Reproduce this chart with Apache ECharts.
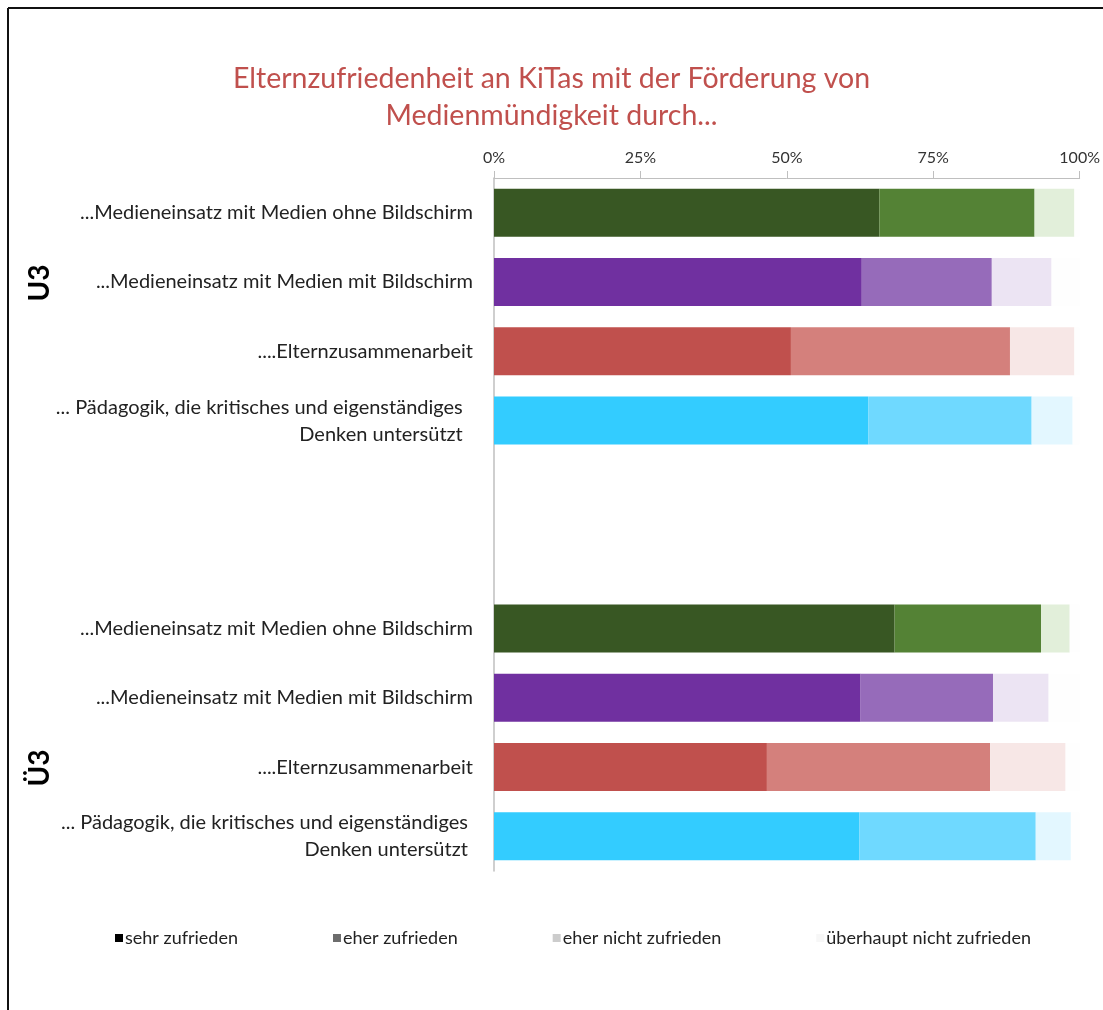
<!DOCTYPE html>
<html>
<head>
<meta charset="utf-8">
<script src="https://cdn.jsdelivr.net/npm/echarts@6/dist/echarts.min.js"></script>
<style>
  html, body { margin: 0; padding: 0; background: #fff; }
  #main { width: 1103px; height: 1010px; }
</style>
</head>
<body>
<div id="main"></div>
<script>
// Kategorien (von oben nach unten), zwei leere Zeilen trennen U3 und Ü3
var categories = ['U3-ohne', 'U3-mit', 'U3-eltern', 'U3-paed', 'gap1', 'gap2', 'Ü3-ohne', 'Ü3-mit', 'Ü3-eltern', 'Ü3-paed'];
var categoryLabels = [
  '...Medieneinsatz mit Medien ohne Bildschirm',
  '...Medieneinsatz mit Medien mit Bildschirm',
  '....Elternzusammenarbeit',
  '... Pädagogik, die kritisches und eigenständiges  \nDenken untersützt  ',
  '', '',
  '...Medieneinsatz mit Medien ohne Bildschirm',
  '...Medieneinsatz mit Medien mit Bildschirm',
  '....Elternzusammenarbeit',
  '... Pädagogik, die kritisches und eigenständiges \nDenken untersützt '
];
var seriesNames = ['sehr zufrieden', 'eher zufrieden', 'eher nicht zufrieden', 'überhaupt nicht zufrieden'];

// Werte in Prozent
var sehr      = [65.8, 62.8, 50.7, 63.9, null, null, 68.4, 62.6, 46.6, 62.4];
var eher      = [26.5, 22.2, 37.4, 27.9, null, null, 25.0, 22.6, 38.1, 30.1];
var eherNicht = [6.8, 10.2, 11.0, 7.0, null, null, 4.9, 9.5, 12.9, 6.0];
var garNicht  = [0.9, 4.8, 0.9, 1.2, null, null, 1.7, 5.3, 2.4, 1.5];

var xTicks = ['0%', '25%', '50%', '75%', '100%'];

// Farben je Zeile: [sehr, eher, eher nicht, überhaupt nicht]
var green  = ['#385723', '#548235', '#e2efda', '#fefefe'];
var purple = ['#7030a0', '#966bba', '#ece4f3', '#fefefe'];
var red    = ['#c0504d', '#d4807c', '#f7e7e6', '#fefefe'];
var cyan   = ['#33ccff', '#6fd9ff', '#e3f7ff', '#fefefe'];
var rowColors = [green, purple, red, cyan, null, null, green, purple, red, cyan];
var legendColors = ['#000000', '#6d6d6d', '#cccccc', '#f7f7f7'];

var allValues = [sehr, eher, eherNicht, garNicht];

var series = [];
for (var s = 0; s < allValues.length; s++) {
  var data = [];
  for (var i = 0; i < categories.length; i++) {
    var v = allValues[s][i];
    if (v === null) { data.push('-'); continue; }
    data.push({ value: v, itemStyle: { color: rowColors[i][s] } });
  }
  series.push({
    name: seriesNames[s],
    type: 'bar',
    stack: 'total',
    barWidth: 48,
    itemStyle: { color: legendColors[s] },
    emphasis: { disabled: true },
    data: data
  });
}

var chart = echarts.init(document.getElementById('main'));
var option = {
  animation: false,
  textStyle: { fontFamily: 'Lato, "Open Sans", sans-serif' },
  title: {
    text: 'Elternzufriedenheit an KiTas mit der Förderung von\nMedienmündigkeit durch...',
    left: 'center',
    top: 55,
    textStyle: { color: '#c0504d', fontSize: 28.5, fontWeight: 'normal', lineHeight: 37, fontFamily: 'Lato, sans-serif' }
  },
  legend: {
    bottom: 58,
    left: 110,
    itemWidth: 8,
    itemHeight: 8,
    itemGap: 95,
    icon: 'rect',
    textStyle: { fontSize: 18, color: '#222', padding: [0, 0, 0, -3] },
    data: seriesNames
  },
  grid: { left: 494, right: 21, top: 178, bottom: 139, containLabel: false },
  xAxis: {
    type: 'value',
    position: 'top',
    min: 0,
    max: 100,
    interval: 25,
    axisLine: { show: true, lineStyle: { color: '#bfbfbf' } },
    axisTick: { show: true, length: 7, lineStyle: { color: '#bfbfbf' } },
    splitLine: { show: false },
    axisLabel: {
      fontSize: 16, color: '#333', margin: 12,
      formatter: function (v) { return xTicks[v / 25]; }
    }
  },
  yAxis: {
    type: 'category',
    inverse: true,
    data: categories,
    axisLine: { show: true, lineStyle: { color: '#bfbfbf', width: 1.5 } },
    axisTick: { show: false },
    axisLabel: {
      fontSize: 20, color: '#222', margin: 21, lineHeight: 27, align: 'right',
      formatter: function (v, idx) { return categoryLabels[idx]; }
    }
  },
  graphic: [
    { type: 'line', shape: { x1: 8, y1: 8, x2: 1103, y2: 8 }, style: { stroke: '#111', lineWidth: 2 } },
    { type: 'line', shape: { x1: 8, y1: 8, x2: 8, y2: 1010 }, style: { stroke: '#111', lineWidth: 2 } },
    { type: 'text', x: 40, y: 283, rotation: Math.PI / 2, style: { text: 'U3', font: 'bold 28px Lato, sans-serif', fill: '#000', align: 'center', verticalAlign: 'middle' } },
    { type: 'text', x: 40, y: 768, rotation: Math.PI / 2, style: { text: 'Ü3', font: 'bold 28px Lato, sans-serif', fill: '#000', align: 'center', verticalAlign: 'middle' } }
  ],
  series: series
};
chart.setOption(option);
</script>
</body>
</html>
